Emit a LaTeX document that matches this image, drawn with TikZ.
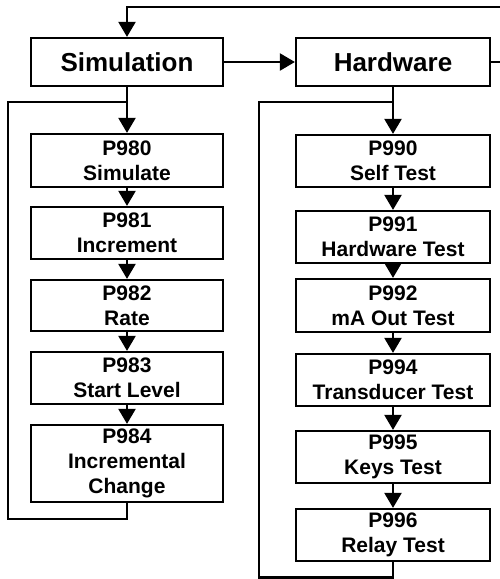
\documentclass[tikz,border=0pt]{standalone}
\usepackage{fontspec}
\setmainfont{Liberation Sans}
\usetikzlibrary{arrows.meta}

\begin{document}
\begin{tikzpicture}[x=1pt, y=-1pt, line width=2.2pt, font=\bfseries,
  hdr/.style={draw, minimum width=192pt, minimum height=48pt, inner sep=0pt, font=\bfseries\fontsize{26}{30}\selectfont},
  box/.style={draw, minimum width=192pt, inner sep=0pt, align=center, font=\bfseries\fontsize{21}{25}\selectfont},
  arr/.style={-{Triangle[length=15pt, width=17pt]}}]
\useasboundingbox (0,0) rectangle (500,579);
\node[hdr] (sim) at (127,62) {Simulation}; \node[hdr, minimum width=194pt] (hw) at (393,62) {Hardware};
% simulation column
\node[box, minimum height=53pt] (p980) at (127,160.5) {P980\\Simulate};
\node[box, minimum height=52pt] (p981) at (127,233) {P981\\Increment};
\node[box, minimum height=51pt] (p982) at (127,305.5) {P982\\Rate};
\node[box, minimum height=52pt] (p983) at (127,378) {P983\\Start Level};
\node[box, minimum height=77pt] (p984) at (127,463.5) {P984\\Incremental\\Change};
% hardware column
\node[box, minimum width=194pt, minimum height=52pt] (p990) at (393,161) {P990\\Self Test};
\node[box, minimum width=194pt, minimum height=52pt] (p991) at (393,237) {P991\\Hardware Test};
\node[box, minimum width=194pt, minimum height=53pt] (p992) at (393,305.5) {P992\\mA Out Test};
\node[box, minimum width=194pt, minimum height=52pt] (p994) at (393,380) {P994\\Transducer Test};
\node[box, minimum width=194pt, minimum height=52pt] (p995) at (393,457) {P995\\Keys Test};
\node[box, minimum width=194pt, minimum height=52pt] (p996) at (393,535) {P996\\Relay Test};
\foreach \a/\b in {sim/p980,p980/p981,p981/p982,p982/p983,p983/p984,hw/p990,p990/p991,p991/p992,p992/p994,p994/p995,p995/p996}
  \draw[arr] (\a) -- (\b);
\draw[arr] (sim) -- (hw);
% loops
\coordinate (topR) at (503,7); \coordinate (simLB) at (8,519); \coordinate (simLT) at (8,102);
\coordinate (hwLB) at (259,577.5); \coordinate (hwLT) at (259,102);
\draw[arr] (hw.east) -| (topR) -| (sim.north);
\draw (p984.south) |- (simLB) -- (simLT) -- (simLT -| sim.south);
\draw (p996.south) |- (hwLB) -- (hwLT) -- (hwLT -| hw.south);
\end{tikzpicture}
\end{document}
